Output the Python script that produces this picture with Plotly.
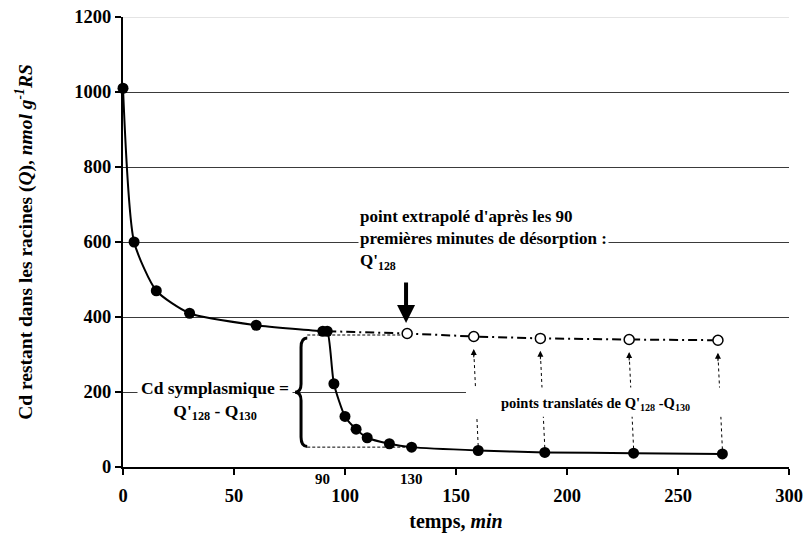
import plotly.graph_objects as go

# ---------------- data ----------------
# measured desorption curve (filled points)
t_meas = [0, 5, 15, 30, 60, 90, 92, 95, 100, 105, 110, 120, 130, 160, 190, 230, 270]
q_meas = [1010, 600, 470, 410, 378, 362, 362, 222, 135, 101, 78, 62, 53, 44, 39, 37, 35]

# extrapolated point Q'128 and translated points (open points)
t_open = [128, 158, 188, 228, 268]
q_open = [356, 348, 343, 340, 338]

# filled points that were translated
t_transl = [160, 190, 230, 270]
q_transl = [44, 39, 37, 35]

x_ticks = [0, 50, 100, 150, 200, 250, 300]
y_ticks = [0, 200, 400, 600, 800, 1000, 1200]
extra_x_labels = [90, 130]

FONT = "Liberation Serif"

fig = go.Figure()

# dash-dot extrapolation line starting from last point of the first phase
fig.add_trace(go.Scatter(
    x=[t_meas[6]] + t_open, y=[q_meas[6]] + q_open, mode="lines",
    line=dict(color="black", width=2, dash="9px,4px,2px,4px"),
    hoverinfo="skip", showlegend=False, cliponaxis=False))

# measured curve
fig.add_trace(go.Scatter(
    x=t_meas, y=q_meas, mode="lines+markers",
    line=dict(color="black", width=2, shape="spline", smoothing=0.6),
    marker=dict(color="black", size=11),
    showlegend=False, cliponaxis=False))

# open points
fig.add_trace(go.Scatter(
    x=t_open, y=q_open, mode="markers",
    marker=dict(color="white", size=10, line=dict(color="black", width=1.5)),
    showlegend=False, cliponaxis=False))

shapes = []
annotations = []

q128 = q_open[0]
q130 = q_meas[12]
xb = 83  # brace anchor (minutes)

# thin dashed guides
shapes.append(dict(type="line", xref="x", yref="y", x0=xb, x1=t_open[0], y0=q128 - 4, y1=q128 - 4,
                   line=dict(color="black", width=1, dash="3px,2px"), layer="below"))
shapes.append(dict(type="line", xref="x", yref="y", x0=xb, x1=t_meas[12], y0=q130, y1=q130,
                   line=dict(color="black", width=1, dash="3px,2px"), layer="below"))

# curly brace between Q'128 and Q130
top = q128 - 12
bot = q130 + 2
mid = (top + bot) / 2
xm = xb - 2.8
xt = xb - 5.5
path = (f"M {xb},{top} Q {xm},{top} {xm},{top-25} L {xm},{mid+22} "
        f"Q {xm},{mid} {xt},{mid} Q {xm},{mid} {xm},{mid-22} "
        f"L {xm},{bot+25} Q {xm},{bot} {xb},{bot}")
shapes.append(dict(type="path", xref="x", yref="y", path=path,
                   line=dict(color="black", width=3)))

# dotted translation arrows
for tf, qf, to, qo in zip(t_transl, q_transl, t_open[1:], q_open[1:]):
    shapes.append(dict(type="line", xref="x", yref="y", x0=tf, x1=to, y0=qf + 12, y1=qo - 38,
                       line=dict(color="black", width=1, dash="dot")))
    annotations.append(dict(x=to, y=qo - 33, xref="x", yref="y", text="", showarrow=True,
                            ax=0, ay=10, arrowhead=2, arrowsize=1.2, arrowwidth=1,
                            arrowcolor="black"))

# white box behind "points translatés" label
shapes.append(dict(type="rect", xref="x", yref="y", x0=154.5, x1=300, y0=134, y1=212,
                   fillcolor="white", line=dict(width=0), layer="above"))

# light top gridline
shapes.append(dict(type="line", xref="paper", yref="y", x0=0, x1=1, y0=1200, y1=1200,
                   line=dict(color="#e4e4e4", width=2)))

annotations.append(dict(
    x=213, y=167, xref="x", yref="y", xanchor="center", yanchor="middle",
    text="<b>points translatés de Q'<sub>128</sub> -Q<sub>130</sub></b>", showarrow=False,
    font=dict(family=FONT, size=14.5, color="black")))

annotations.append(dict(
    x=41.5, y=177, xref="x", yref="y", xanchor="center", yanchor="middle", align="center",
    text="<b>Cd symplasmique =<br>Q'<sub>128</sub> - Q<sub>130</sub></b>", showarrow=False,
    bgcolor="white", borderpad=3,
    font=dict(family=FONT, size=17.5, color="black")))

annotations.append(dict(
    x=106, y=605, xref="x", yref="y", xanchor="left", yanchor="middle", align="left",
    text="<b>point extrapolé d'après les 90<br>premières minutes de désorption :<br>Q'<sub>128</sub></b>",
    showarrow=False, bgcolor="white", borderpad=1,
    font=dict(family=FONT, size=17, color="black")))

# big arrow to Q'128
annotations.append(dict(x=t_open[0] - 0.5, y=q128 + 28, xref="x", yref="y", text="", showarrow=True,
                        ax=0, ay=-42, arrowhead=2, arrowsize=0.9, arrowwidth=4, arrowcolor="black"))

# extra x labels 90 / 130
for v in extra_x_labels:
    annotations.append(dict(x=v, y=-0.005, xref="x", yref="paper", xanchor="center", yanchor="top",
                            text=f"<b>{v}</b>", showarrow=False,
                            font=dict(family=FONT, size=15, color="black")))

fig.update_layout(
    width=808, height=533,
    margin=dict(l=123, r=19, t=17, b=66),
    paper_bgcolor="white", plot_bgcolor="white",
    font=dict(family=FONT, color="black"),
    shapes=shapes, annotations=annotations,
    xaxis=dict(
        range=[0, 300], tickvals=x_ticks, ticktext=[f"<b>{v}</b>" for v in x_ticks],
        showgrid=False, zeroline=False, automargin=False,
        showline=True, linecolor="black", linewidth=2,
        ticks="outside", ticklen=6, tickwidth=1.5, tickcolor="black",
        ticklabelstandoff=5,
        tickfont=dict(family=FONT, size=18.5, color="black"),
        title=dict(text="<b>temps, <i>min</i></b>", standoff=11,
                   font=dict(family=FONT, size=20, color="black")),
    ),
    yaxis=dict(
        range=[0, 1200], tickvals=y_ticks, ticktext=[f"<b>{v}</b>" for v in y_ticks],
        showgrid=True, gridcolor="#3a3a3a", gridwidth=1, zeroline=False, automargin=False,
        showline=True, linecolor="black", linewidth=2,
        ticks="outside", ticklen=6, tickwidth=1.5, tickcolor="black",
        tickfont=dict(family=FONT, size=18.5, color="black"),
        title=dict(text="<b>Cd restant dans les racines (<i>Q</i>), <i>nmol g<sup>-1</sup>RS</i></b>",
                   standoff=36, font=dict(family=FONT, size=19.5, color="black")),
    ),
)

fig.write_html("out.html", config={"displayModeBar": False},
               post_script="document.body.style.margin='0';document.body.style.overflow='hidden';")
